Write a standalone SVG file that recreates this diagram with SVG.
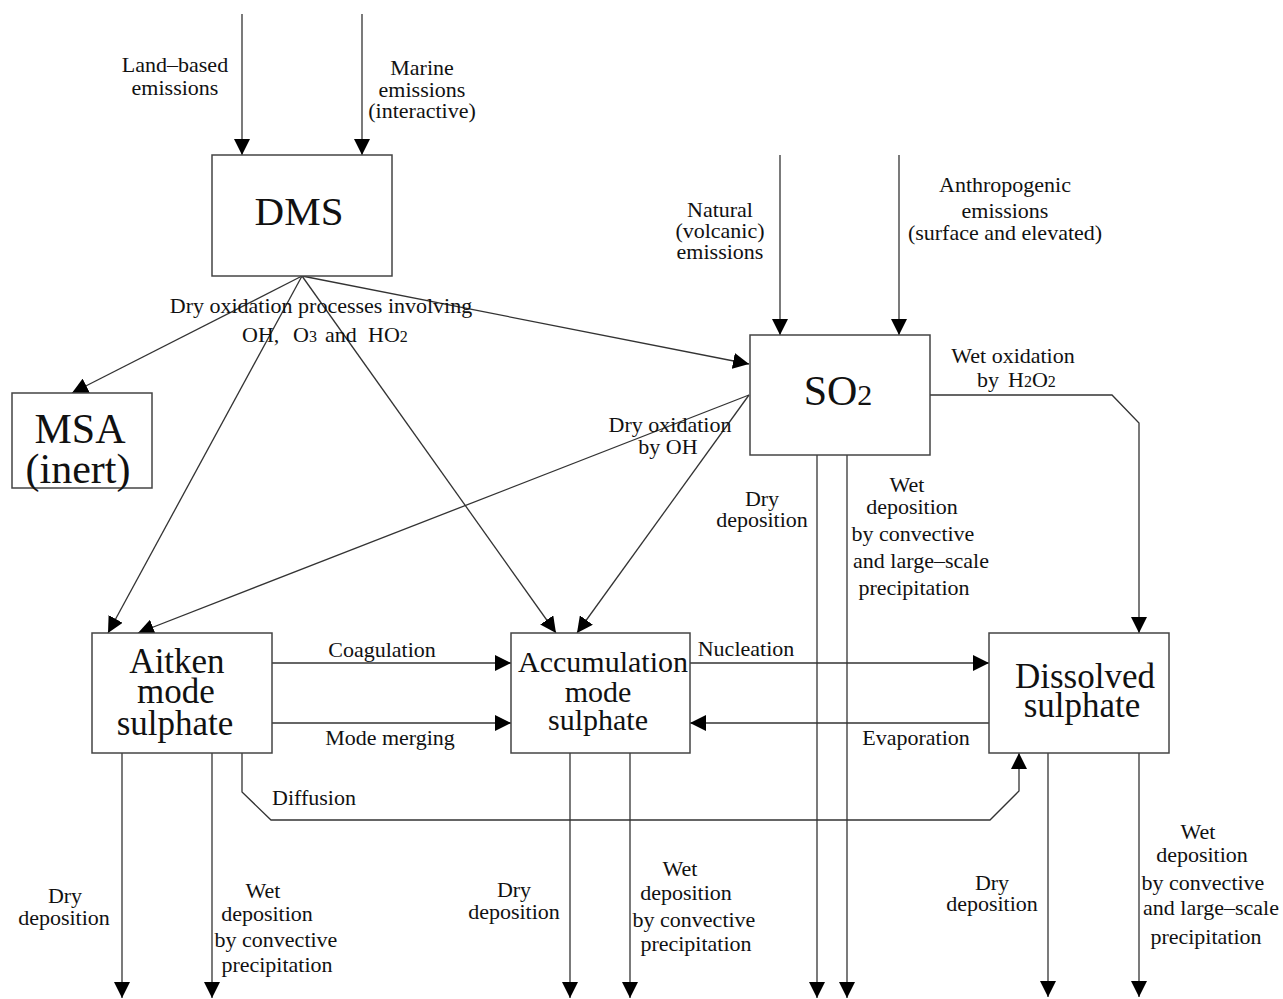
<svg xmlns="http://www.w3.org/2000/svg" width="1283" height="999" viewBox="0 0 1283 999">
<style>
.box{fill:#fff;stroke:#444;stroke-width:1.5}
.ln{fill:none;stroke:#333;stroke-width:1.3}
.t{font-family:"Liberation Serif","Times New Roman",serif;font-size:22px;fill:#111;text-anchor:middle}
.tl{font-family:"Liberation Serif","Times New Roman",serif;font-size:22px;fill:#111}
.big{font-family:"Liberation Serif","Times New Roman",serif;fill:#111;text-anchor:middle}
</style>
<defs>
<marker id="ah" viewBox="0 0 16 16" markerWidth="16" markerHeight="16" refX="16" refY="8" orient="auto" markerUnits="userSpaceOnUse">
<path d="M0,0 L16,8 L0,16 z" fill="#000"/>
</marker>
</defs>
<rect width="1283" height="999" fill="#fff"/>

<g id="connectors">
<line class="ln" x1="242" y1="14" x2="242" y2="155" marker-end="url(#ah)"/>
<line class="ln" x1="362" y1="14" x2="362" y2="155" marker-end="url(#ah)"/>
<line class="ln" x1="780" y1="155" x2="780" y2="335" marker-end="url(#ah)"/>
<line class="ln" x1="899" y1="155" x2="899" y2="335" marker-end="url(#ah)"/>
<line class="ln" x1="302" y1="276" x2="72" y2="393" marker-end="url(#ah)"/>
<line class="ln" x1="302" y1="276" x2="108" y2="633" marker-end="url(#ah)"/>
<line class="ln" x1="302" y1="276" x2="556" y2="633" marker-end="url(#ah)"/>
<line class="ln" x1="302" y1="276" x2="749" y2="364" marker-end="url(#ah)"/>
<line class="ln" x1="749" y1="395" x2="138" y2="633" marker-end="url(#ah)"/>
<line class="ln" x1="749" y1="395" x2="577" y2="633" marker-end="url(#ah)"/>
<polyline class="ln" points="930,395 1112,395 1139,423 1139,633" marker-end="url(#ah)"/>
<line class="ln" x1="272" y1="663" x2="511" y2="663" marker-end="url(#ah)"/>
<line class="ln" x1="272" y1="723" x2="511" y2="723" marker-end="url(#ah)"/>
<line class="ln" x1="690" y1="663" x2="989" y2="663" marker-end="url(#ah)"/>
<line class="ln" x1="989" y1="723" x2="690" y2="723" marker-end="url(#ah)"/>
<polyline class="ln" points="242,753 242,792 271,820 990,820 1019,791 1019,753" marker-end="url(#ah)"/>
<line class="ln" x1="122" y1="753" x2="122" y2="998" marker-end="url(#ah)"/>
<line class="ln" x1="212" y1="753" x2="212" y2="998" marker-end="url(#ah)"/>
<line class="ln" x1="570" y1="753" x2="570" y2="998" marker-end="url(#ah)"/>
<line class="ln" x1="630" y1="753" x2="630" y2="998" marker-end="url(#ah)"/>
<line class="ln" x1="817" y1="455" x2="817" y2="998" marker-end="url(#ah)"/>
<line class="ln" x1="847" y1="455" x2="847" y2="998" marker-end="url(#ah)"/>
<line class="ln" x1="1048" y1="753" x2="1048" y2="997" marker-end="url(#ah)"/>
<line class="ln" x1="1139" y1="753" x2="1139" y2="997" marker-end="url(#ah)"/>
</g>

<g id="node-dms">
<rect class="box" x="212" y="155" width="180" height="121"/>
<text class="big" x="299" y="225" font-size="41">DMS</text>
</g>
<g id="node-so2">
<rect class="box" x="750" y="335" width="180" height="120"/>
<text class="big" x="838" y="405" font-size="42">SO<tspan font-size="30">2</tspan></text>
</g>
<g id="node-msa">
<rect class="box" x="12" y="393" width="140" height="95"/>
<text class="big" x="80" y="443" font-size="42">MSA</text>
<text class="big" x="78" y="483" font-size="42">(inert)</text>
</g>
<g id="node-aitken">
<rect class="box" x="92" y="633" width="180" height="120"/>
<text class="big" x="177" y="673" font-size="35">Aitken</text>
<text class="big" x="176" y="703" font-size="35">mode</text>
<text class="big" x="175" y="735" font-size="35">sulphate</text>
</g>
<g id="node-accumulation">
<rect class="box" x="511" y="633" width="179" height="120"/>
<text class="big" x="603" y="672" font-size="30">Accumulation</text>
<text class="big" x="598" y="702" font-size="30">mode</text>
<text class="big" x="598" y="730" font-size="30">sulphate</text>
</g>
<g id="node-dissolved">
<rect class="box" x="989" y="633" width="180" height="120"/>
<text class="big" x="1085" y="688" font-size="35">Dissolved</text>
<text class="big" x="1082" y="717" font-size="35">sulphate</text>
</g>

<g id="labels">
<text class="t" x="175" y="72">Land–based</text>
<text class="t" x="175" y="95">emissions</text>
<text class="t" x="422" y="75">Marine</text>
<text class="t" x="422" y="97">emissions</text>
<text class="t" x="422" y="118">(interactive)</text>
<text class="t" x="720" y="217">Natural</text>
<text class="t" x="720" y="238">(volcanic)</text>
<text class="t" x="720" y="259">emissions</text>
<text class="t" x="1005" y="192">Anthropogenic</text>
<text class="t" x="1005" y="218">emissions</text>
<text class="t" x="1005" y="240">(surface and elevated)</text>
<text class="t" x="321" y="313">Dry oxidation processes involving</text>
<text class="tl" y="342"><tspan x="242">OH,</tspan><tspan x="293">O<tspan font-size="16">3</tspan></tspan><tspan x="325">and</tspan><tspan x="368">HO<tspan font-size="16">2</tspan></tspan></text>
<text class="t" x="1013" y="363">Wet oxidation</text>
<text class="tl" y="387"><tspan x="977">by</tspan><tspan x="1008">H<tspan font-size="16">2</tspan>O<tspan font-size="16">2</tspan></tspan></text>
<text class="t" x="670" y="432">Dry oxidation</text>
<text class="t" x="668" y="454">by OH</text>
<text class="t" x="762" y="506">Dry</text>
<text class="t" x="762" y="527">deposition</text>
<text class="t" x="907" y="492">Wet</text>
<text class="t" x="912" y="514">deposition</text>
<text class="t" x="913" y="541">by convective</text>
<text class="t" x="921" y="568">and large–scale</text>
<text class="t" x="914" y="595">precipitation</text>
<text class="t" x="382" y="657">Coagulation</text>
<text class="t" x="390" y="745">Mode merging</text>
<text class="t" x="746" y="656">Nucleation</text>
<text class="t" x="916" y="745">Evaporation</text>
<text class="tl" x="272" y="805">Diffusion</text>
<text class="t" x="65" y="903">Dry</text>
<text class="t" x="64" y="925">deposition</text>
<text class="t" x="263" y="898">Wet</text>
<text class="t" x="267" y="921">deposition</text>
<text class="t" x="276" y="947">by convective</text>
<text class="t" x="277" y="972">precipitation</text>
<text class="t" x="514" y="897">Dry</text>
<text class="t" x="514" y="919">deposition</text>
<text class="t" x="680" y="876">Wet</text>
<text class="t" x="686" y="900">deposition</text>
<text class="t" x="694" y="927">by convective</text>
<text class="t" x="696" y="951">precipitation</text>
<text class="t" x="992" y="890">Dry</text>
<text class="t" x="992" y="911">deposition</text>
<text class="t" x="1198" y="839">Wet</text>
<text class="t" x="1202" y="862">deposition</text>
<text class="t" x="1203" y="890">by convective</text>
<text class="t" x="1211" y="915">and large–scale</text>
<text class="t" x="1206" y="944">precipitation</text>
</g>
</svg>
